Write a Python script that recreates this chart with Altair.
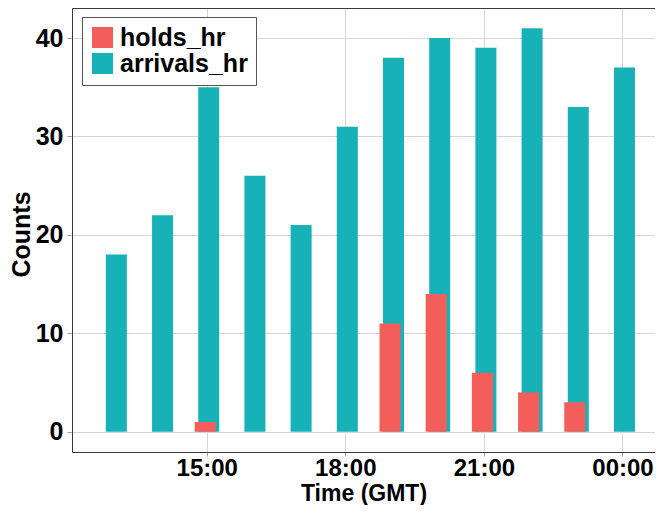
import altair as alt
import pandas as pd

# ---- data ----
hour_of_day = [13, 14, 15, 16, 17, 18, 19, 20, 21, 22, 23, 0]
arrivals_hr = [18, 22, 35, 26, 21, 31, 38, 40, 39, 41, 33, 37]
holds_hr = [0, 0, 1, 0, 0, 0, 11, 14, 6, 4, 3, 0]
series_names = ["holds_hr", "arrivals_hr"]
series_colors = ["#F35E5A", "#17B2B7"]
x_tick_hours = [15, 18, 21, 0]
y_tick_values = [0, 10, 20, 30, 40]


def stamp(h):
    day = 2 if h < 12 else 1
    return f"2024-01-{day:02d}T{h:02d}:00:00"


def dt(h, m=0, s=0):
    day = 2 if h < 12 else 1
    return alt.DateTime(year=2024, month=1, date=day, hours=h, minutes=m, seconds=s)


arr_df = pd.DataFrame({"time": [stamp(h) for h in hour_of_day],
                       "count": arrivals_hr, "series": "arrivals_hr"})
hold_df = pd.DataFrame({"time": [stamp(h) for h in hour_of_day],
                        "count": holds_hr, "series": "holds_hr"})
hold_df = hold_df[hold_df["count"] > 0]

FONT = "Liberation Sans"
BORDER = "#3A3A3A"
x_scale = alt.Scale(domain=[dt(12, 11, 30), dt(0, 35, 45)])

x_bottom = alt.X(
    "time:T",
    title="Time (GMT)",
    scale=x_scale,
    axis=alt.Axis(
        values=[dt(h) for h in x_tick_hours],
        format="%H:%M",
        labelFontSize=24, labelFontWeight="bold", labelColor="#000000",
        labelPadding=0, tickSize=4, tickColor="#A0A0A0", labelFlush=False,
        titleFontSize=23, titleFontWeight="bold", titleColor="#000000",
        titleY=48, titleBaseline="alphabetic",
        grid=True, gridColor="#D6D6D6", gridWidth=1,
        domain=True, domainColor=BORDER, domainWidth=1,
    ),
)
x_top = alt.X(
    "time:T",
    title=None,
    scale=x_scale,
    axis=alt.Axis(
        orient="top", labels=False, ticks=False, grid=False,
        domain=True, domainColor=BORDER, domainWidth=1,
    ),
)
y_enc = alt.Y(
    "count:Q",
    title="Counts",
    scale=alt.Scale(domain=[-2.05, 43.05], nice=False, zero=False),
    axis=alt.Axis(
        values=y_tick_values,
        labelFontSize=25, labelFontWeight="bold", labelColor="#000000",
        labelPadding=4, tickSize=5, tickColor="#A0A0A0",
        titleFontSize=25, titleFontWeight="bold", titleColor="#000000",
        titleAngle=270, titleX=-43, titleY=226, titleBaseline="alphabetic",
        grid=True, gridColor="#D6D6D6", gridWidth=1,
        domain=True, domainColor=BORDER, domainWidth=1,
    ),
)
color_enc = alt.Color(
    "series:N",
    scale=alt.Scale(domain=series_names, range=series_colors),
    legend=alt.Legend(
        title=None, orient="none", legendX=10, legendY=9,
        symbolType="square", symbolSize=441, symbolStrokeWidth=0,
        symbolOpacity=1, labelFontSize=25, labelFontWeight="bold",
        labelColor="#000000", labelOffset=5, rowPadding=0,
        padding=8, strokeColor="#555555", fillColor="#FFFFFF",
    ),
)

arrivals = alt.Chart(arr_df).mark_bar(width=21, xOffset=2).encode(
    x=x_bottom, y=y_enc, y2=alt.datum(0), color=color_enc
)
holds = alt.Chart(hold_df).mark_bar(width=21, xOffset=-1.5).encode(
    x=x_top, y=y_enc, y2=alt.datum(0), color=color_enc
)

chart = (
    alt.layer(arrivals, holds)
    .resolve_axis(x="independent")
    .properties(
        width=583, height=444,
        autosize=alt.AutoSizeParams(type="none"),
        padding={"left": 64, "top": 0, "right": 0, "bottom": 53},
        background="#FFFFFF",
    )
    .configure(font=FONT)
    .configure_view(stroke="transparent", strokeWidth=0)
)

chart.save("out.html", embed_options={"renderer": "svg", "actions": False})
